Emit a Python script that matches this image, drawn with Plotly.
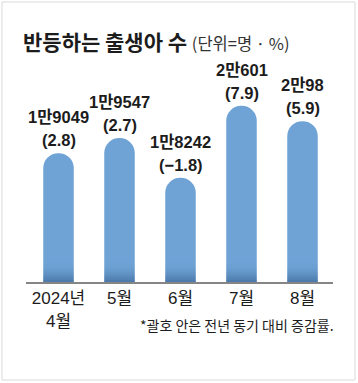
import plotly.graph_objects as go

# ---- data ----
categories = ["2024년<br>4월", "5월", "6월", "7월", "8월"]
births = [19049, 19547, 18242, 20601, 20098]
births_labels = ["1만9049", "1만9547", "1만8242", "2만601", "2만98"]
yoy_change = [2.8, 2.7, -1.8, 7.9, 5.9]

title_main = "반등하는 출생아 수"
title_unit = "(단위=명 · %)"
footnote = "*괄호 안은 전년 동기 대비 증감률."

# ---- layout constants ----
W, H = 358, 383
ML, MR, MT, MB = 26, 25, 60, 101
PW, PH = W - ML - MR, H - MT - MB
Y_MIN = 14830
Y_PER_PX = 32.76
Y_MAX = Y_MIN + PH * Y_PER_PX

BAR_COLOR = "#6fa3d6"
DARK = "#2b5482"
TXT = "#1c1c1c"
NUM_FONT = "Liberation Sans Narrow, Liberation Sans, Noto Sans CJK KR"
KR_FONT = "Noto Sans CJK KR"

def fmt_pct(v):
    return f"(−{abs(v):.1f})" if v < 0 else f"({v:.1f})"

fig = go.Figure()
fig.add_trace(go.Bar(
    x=categories, y=births, width=0.5,
    marker=dict(color=BAR_COLOR, line=dict(width=0), cornerradius="50%"),
    hoverinfo="skip", showlegend=False,
))

# bottom shading strips (smooth gradient look) built from axis range
n_strips = 10
strip_h = 2 * Y_PER_PX
for k in range(n_strips):
    t = 1 - k / n_strips
    op = 0.5 * t * t
    fig.add_trace(go.Bar(
        x=categories, y=[strip_h] * len(categories),
        base=[Y_MIN + k * strip_h] * len(categories), width=0.5,
        marker=dict(color=DARK, opacity=op, line=dict(width=0)),
        hoverinfo="skip", showlegend=False,
    ))

# value labels (two lines) anchored at each bar's top
for cat, val, lab, pct in zip(categories, births, births_labels, yoy_change):
    fig.add_annotation(
        x=cat, y=val, xref="x", yref="y", showarrow=False,
        text=f"<b>{lab}</b>", yanchor="middle", yshift=36,
        font=dict(family=NUM_FONT, size=16.5, color=TXT),
    )
    fig.add_annotation(
        x=cat, y=val, xref="x", yref="y", showarrow=False,
        text=f"<b>{fmt_pct(pct)}</b>", yanchor="middle", yshift=13,
        font=dict(family=NUM_FONT, size=16.5, color=TXT),
    )

fig.update_layout(
    width=W, height=H,
    margin=dict(l=ML, r=MR, t=MT, b=MB, autoexpand=False),
    paper_bgcolor="white", plot_bgcolor="white",
    barmode="overlay",
    xaxis=dict(
        showline=True, linecolor="#858585", linewidth=2,
        showgrid=False, zeroline=False, ticks="", automargin=False,
        tickfont=dict(family=NUM_FONT, size=17, color=TXT),
        fixedrange=True,
    ),
    yaxis=dict(
        range=[Y_MIN, Y_MAX], visible=False, showgrid=False,
        automargin=False, fixedrange=True,
    ),
    font=dict(family=KR_FONT, color=TXT),
)

# title
fig.add_annotation(
    xref="paper", yref="paper",
    x=(21 - ML) / PW, y=1 + (MT - 41) / PH,
    xanchor="left", yanchor="middle", showarrow=False,
    text=f"<b>{title_main}</b> <span style='font-size:16.5px;color:#333'>{title_unit}</span>",
    font=dict(family=KR_FONT, size=21, color=TXT),
)

# footnote
fig.add_annotation(
    xref="paper", yref="paper",
    x=(336 - ML) / PW, y=-(325 - (MT + PH)) / PH,
    xanchor="right", yanchor="middle", showarrow=False,
    text=footnote,
    font=dict(family=KR_FONT, size=14, color=TXT),
)

# outer frame
fig.add_shape(
    type="rect", xref="paper", yref="paper",
    x0=(2 - ML) / PW, x1=(355 - ML) / PW,
    y0=-(380 - (MT + PH)) / PH, y1=1 + (MT - 2) / PH,
    line=dict(color="#d9d9d9", width=1), layer="below",
)

fig.write_html(
    "out.html",
    config={"displayModeBar": False},
    post_script="document.body.style.margin='0';document.body.style.padding='0';",
)
